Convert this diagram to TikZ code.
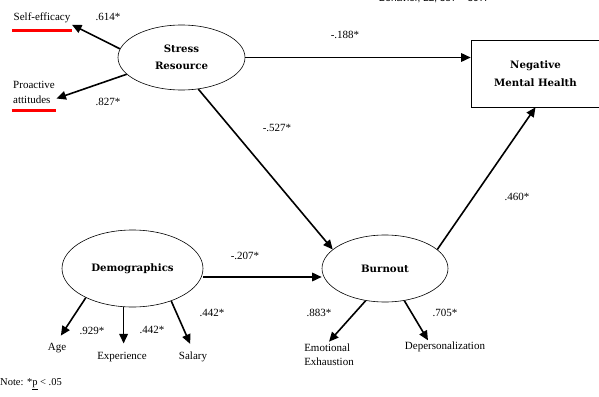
\documentclass[tikz,border=0pt]{standalone}
\usepackage{fontspec}
\setmainfont{Liberation Serif}
\setsansfont{Liberation Sans}
\newfontfamily\slabfont{DejaVu Serif}
\usetikzlibrary{shapes.geometric,positioning,arrows.meta}

\begin{document}
\begin{tikzpicture}[x=1pt, y=-1pt,
% Construct style
		construct/.style={ellipse
							    , fill=white
							    , draw=black, line width=0.6pt
							    , font=\slabfont\bfseries\fontsize{10.2}{17}\selectfont
							    , align=center
							    , inner sep=0pt},
		outcome/.style={rectangle
							    , fill=white
							    , draw=black, line width=0.6pt
							    , minimum width=129pt
							    , minimum height=67pt
							    , font=\slabfont\bfseries\fontsize{10.2}{18}\selectfont
							    , align=center},
% Indicator and coefficient style
		indicator/.style={font=\fontsize{11}{14.5}\selectfont
							    , align=left
							    , inner sep=1.5pt},
		coef/.style={font=\fontsize{11}{12}\selectfont
							    , inner sep=0pt},
		redline/.style={draw=red, line width=3pt},
% Edges style
		effect/.style={line width=1.6pt
			       			, -{Triangle[length=9.5pt,width=8.5pt]}}
	]
	\useasboundingbox (0,0) rectangle (599,396);
%% Draw constructs
	\node [construct, minimum width=127pt, minimum height=65pt] (stress) at (181.5,57.5) {Stress\\Resource};
	\node [outcome] (nmh) at (535.5,73.5) {Negative\\Mental Health};
	\node [construct, minimum width=126pt, minimum height=67pt] (burnout) at (385,268.5) {Burnout};
	\node [construct, minimum width=141pt, minimum height=77pt] (demo) at (132.5,268.5) {Demographics};
%% Draw indicators
	\node [indicator] (selfeff) at (42,18) {Self-efficacy};
	\node [indicator] (proact) at (34,92.5) {Proactive\\attitudes};
	\node [indicator] (age) at (57,348) {Age};
	\node [indicator] (exper) at (122,357) {Experience};
	\node [indicator] (salary) at (193,357) {Salary};
	\node [indicator] (emoex) at (329,354.5) {Emotional\\Exhaustion};
	\node [indicator] (depers) at (445,347) {Depersonalization};
	\draw [redline] ([yshift=-5.5pt]selfeff.south west) -- ([yshift=-5.5pt]selfeff.south east);
	\draw [redline] ([yshift=-5.5pt]proact.south west) -- ([yshift=-5.5pt]proact.south east);
%% Draw coefficients
	\node [coef] (c614) at (108,17) {.614*};
	\node [coef] (c827) at (108,102) {.827*};
	\node [coef] (c188) at (345,35) {-.188*};
	\node [coef] (c527) at (277,128) {-.527*};
	\node [coef] (c460) at (517,197) {.460*};
	\node [coef] (c207) at (245,256) {-.207*};
	\node [coef] (c929) at (92,331) {.929*};
	\node [coef] (c442e) at (152,330) {.442*};
	\node [coef] (c442s) at (212,313) {.442*};
	\node [coef] (c883) at (319,313) {.883*};
	\node [coef] (c705) at (445,313) {.705*};
	\node [anchor=west, font=\fontsize{10.5}{12}\selectfont, inner sep=0pt] (note) at (0,384) {Note: *\underline{p} < .05};
	\node [font=\sffamily\fontsize{10}{12}\selectfont, inner sep=0pt] (cite) at (433,-1) {Behavior, 22, 387 -- 397.};
%% Draw edges
	\begin{scope}[effect]
	\draw (stress.172) -- (selfeff.south east);
	\draw (stress.197) -- (proact.-15);
	\draw (stress.east) -- (stress.east -| nmh.west);
	\draw (stress.-62) -- (burnout.160);
	\draw ([yshift=-8.5pt]demo.east) -- ([yshift=-8.5pt]burnout.west);
	\draw (burnout.20) -- (nmh.south);
	\draw [shorten >=7pt] (demo.212) -- (age.north);
	\draw [shorten >=7pt] (demo.-103) -- (demo.-103 |- exper.north);
	\draw [shorten >=7pt] (demo.-40) -- (salary.north);
	\draw (burnout.-121) -- (emoex.north);
	\draw (burnout.-59) -- ([xshift=-17pt]depers.north);
	\end{scope}
\end{tikzpicture}
\end{document}
